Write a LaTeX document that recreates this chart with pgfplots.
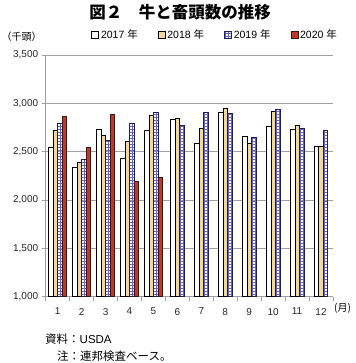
\documentclass[border=0pt]{standalone}
\usepackage{fontspec}
\setmainfont{Liberation Sans}
\newfontfamily\jp{Noto Sans CJK JP}
\usepackage{pgfplots}
\pgfplotsset{compat=1.18}
\usetikzlibrary{patterns}
\definecolor{c18}{RGB}{240,216,162}
\definecolor{c19}{RGB}{100,100,200}
\definecolor{c19d}{RGB}{30,30,90}
\definecolor{c20}{RGB}{185,58,40}
\definecolor{c20d}{RGB}{70,20,15}
\definecolor{gridc}{RGB}{160,160,160}
\begin{document}
\begin{tikzpicture}
\useasboundingbox (0,0) rectangle (355pt,-363pt);
\begin{axis}[
  at={(45.7pt,-296.5pt)}, anchor=south west,
  scale only axis, width=287.3pt, height=241.5pt,
  xmin=0.5, xmax=12.5, ymin=1000, ymax=3500,
  ytick={1000,1500,...,3500},
  xtick={0.5,1.5,...,12.5},
  xticklabels={\mbox{1},\mbox{2},\mbox{3},\mbox{4},\mbox{5},\mbox{6},\mbox{7},\mbox{8},\mbox{9},\mbox{10},\mbox{11},\mbox{12}},
  x tick label as interval,
  tick align=outside, major tick length=4pt,
  axis x line*=bottom, axis y line*=left,
  axis line style={gridc, line width=0.7pt},
  every tick/.style={gridc, line width=0.7pt},
  ymajorgrids, grid style={gridc, line width=0.7pt},
  /pgf/number format/assume math mode=true,
  /pgf/number format/1000 sep={,},
  ticklabel style={font=\fontsize{10}{12}\selectfont, text=black!85},
  xticklabel style={yshift=-4pt},
  ybar, bar width=4.5pt,
  legend columns=4,
  legend style={draw=none, fill=none, at={(0.148,1.083)}, anchor=west,
    font=\fontsize{10.5}{12}\selectfont,
    /tikz/every even column/.append style={column sep=18pt}},
  legend image code/.code={\draw[#1] (0pt,-3.5pt) rectangle (7pt,3.5pt);},
]
\addplot[fill=white, draw=black, line width=0.6pt, bar shift=-6.75pt] coordinates {(1,2542) (2,2333) (3,2729) (4,2427) (5,2719)};
\addplot[fill=c18, draw=black, line width=0.6pt, bar shift=-2.25pt] coordinates {(1,2719) (2,2389) (3,2667) (4,2604) (5,2878)};
\addplot[pattern=grid, pattern color=c19, draw=c19d, line width=0.6pt, bar shift=2.25pt] coordinates {(1,2795) (2,2417) (3,2615) (4,2795) (5,2906)};
\addplot[fill=c20, draw=c20d, line width=0.6pt, bar shift=6.75pt] coordinates {(1,2868) (2,2542) (3,2889) (4,2191) (5,2229)};
\legend{2017 {\jp 年},2018 {\jp 年},2019 {\jp 年},2020 {\jp 年}}
\addplot[forget plot, fill=white, draw=black, line width=0.6pt, bar shift=-4.5pt] coordinates {(6,2837) (7,2587) (8,2906) (9,2656) (10,2760) (11,2729) (12,2552)};
\addplot[forget plot, fill=c18, draw=black, line width=0.6pt, bar shift=0pt] coordinates {(6,2844) (7,2743) (8,2948) (9,2587) (10,2920) (11,2774) (12,2552)};
\addplot[forget plot, pattern=grid, pattern color=c19, draw=c19d, line width=0.6pt, bar shift=4.5pt] coordinates {(6,2771) (7,2906) (8,2895) (9,2646) (10,2937) (11,2743) (12,2722)};
\end{axis}
\node[font=\jp\bfseries\fontsize{16.5}{18}\selectfont] at (180pt,-12pt) {図２　牛と畜頭数の推移};
\node[font=\jp\fontsize{10}{12}\selectfont, anchor=west] at (-2pt,-37pt) {（千頭）};
\node[font=\jp\fontsize{10}{12}\selectfont, anchor=west, inner sep=0pt] at (334pt,-308pt) {(月)};
\node[font=\jp\fontsize{11.5}{13}\selectfont, anchor=west, inner sep=0pt] at (45pt,-339pt) {資料：{\rmfamily USDA}};
\node[font=\jp\fontsize{11.5}{13}\selectfont, anchor=west, inner sep=0pt] at (57pt,-356pt) {注：連邦検査ベース。};
\end{tikzpicture}
\end{document}
